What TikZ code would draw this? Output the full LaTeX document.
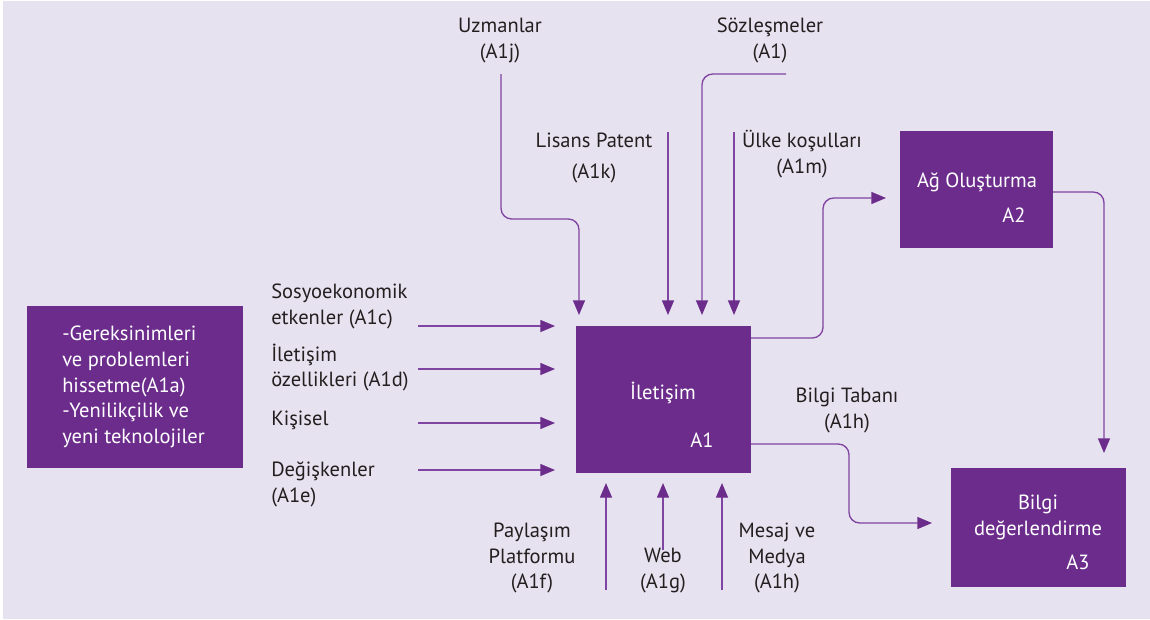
\documentclass[tikz,border=0pt]{standalone}
\usepackage{fontspec}
\setmainfont{PT Sans}
\usetikzlibrary{arrows.meta}
\definecolor{bg}{HTML}{E7E2EF}
\definecolor{boxc}{HTML}{6C2C8C}
\definecolor{linec}{HTML}{8044A2}
\definecolor{txt}{HTML}{231F20}
\begin{document}
\begin{tikzpicture}[x=0.75pt,y=-0.75pt,
  font=\fontsize{15.4}{19.2}\selectfont,
  procbox/.style={fill=boxc, draw=none, inner sep=0pt, outer sep=0pt},
  lbl/.style={text=txt, align=center, inner sep=0pt},
  lbll/.style={text=txt, align=left, inner sep=0pt, anchor=west},
  wlbl/.style={text=white, align=center, inner sep=0pt},
  flow/.style={draw=linec, line width=1pt, rounded corners=8pt,
    -{Triangle[length=11pt,width=9pt,color=boxc]}}]
\useasboundingbox (0,0) rectangle (1150,619);
\fill[white] (0,0) rectangle (1150,619);
\fill[bg] (3,1) rectangle (1150,619);

% boxes
\node[procbox, minimum width=162pt, minimum height=121.5pt] (A0) at (135,387) {};
\node[procbox, minimum width=131.25pt, minimum height=110.25pt] (A1) at (663.5,399.5) {};
\node[procbox, minimum width=114.75pt, minimum height=87.75pt] (A2) at (976.5,189.5) {};
\node[procbox, minimum width=131.25pt, minimum height=89.25pt] (A3) at (1038.5,527.5) {};

% box texts
\node[wlbl, align=left, anchor=west] (t0) at (62,387) {-Gereksinimleri\\ve problemleri\\hissetme(A1a)\\-Yenilikçilik ve\\yeni teknolojiler};
\node[wlbl] (t1) at (663,393) {İletişim};
\node[wlbl] (t1n) at (702,440) {A1};
\node[wlbl] (t2) at (977,182) {Ağ Oluşturma};
\node[wlbl] (t2n) at (1014,215) {A2};
\node[wlbl] (t3) at (1038,517.5) {Bilgi\\değerlendirme};
\node[wlbl] (t3n) at (1078,562) {A3};

% top labels
\node[lbl] (uz) at (500,40.5) {Uzmanlar\\(A1j)};
\node[lbl] (sz) at (770,40.5) {Sözleşmeler\\(A1)};
\node[lbl] (lp) at (594,158) {Lisans Patent\\[4pt](A1k)};
\node[lbl] (uk) at (802,154) {Ülke koşulları\\(A1m)};

% left labels
\node[lbll] (se) at (271,306.5) {Sosyoekonomik\\etkenler (A1c)};
\node[lbll] (io) at (271,367.5) {İletişim\\özellikleri (A1d)};
\node[lbll] (ks) at (271,420) {Kişisel};
\node[lbll] (dg) at (271,484.5) {Değişkenler\\(A1e)};

% bottom labels
\node[lbl] (pp) at (532,558) {Paylaşım\\Platformu\\(A1f)};
\node[lbl] (wb) at (663,570.5) {Web\\(A1g)};
\node[lbl] (mm) at (777,558) {Mesaj ve\\Medya\\(A1h)};
\node[lbl] (bt) at (847,410.5) {Bilgi Tabanı\\(A1h)};

% free ends
\coordinate (suz) at (501,74);
\coordinate (slp) at (668,132);
\coordinate (ssz) at (786,74);
\coordinate (suk) at (734,132);
\coordinate (sse) at (418,326);
\coordinate (sio) at (418,369);
\coordinate (sks) at (418,423);
\coordinate (sdg) at (418,470);
\coordinate (spp) at (606,590);
\coordinate (swb) at (663,550);
\coordinate (smm) at (722,590);

% top inputs
\draw[flow, shorten >=8.25pt] (suz) -- (501,219) -- (579,219) -- (A1.north -| 579,0);
\draw[flow, shorten >=8.25pt] (slp) -- (A1.north -| slp);
\draw[flow, shorten >=8.25pt] (ssz) -- (702,74) -- (A1.north -| 702,0);
\draw[flow, shorten >=8.25pt] (suk) -- (A1.north -| suk);

% left inputs
\draw[flow, shorten >=15.75pt] (sse) -- (A1.west |- sse);
\draw[flow, shorten >=15.75pt] (sio) -- (A1.west |- sio);
\draw[flow, shorten >=15.75pt] (sks) -- (A1.west |- sks);
\draw[flow, shorten >=15.75pt] (sdg) -- (A1.west |- sdg);

% bottom inputs
\draw[flow, shorten >=7.5pt] (spp) -- (A1.south -| spp);
\draw[flow, shorten >=7.5pt] (swb) -- (A1.south -| swb);
\draw[flow, shorten >=7.5pt] (smm) -- (A1.south -| smm);

% outputs
\draw[flow, shorten >=10.5pt] (A1.east |- 0,338) -- (823,338) -- (823,198) -- (A2.west |- 0,198);
\draw[flow, shorten >=11.25pt] (A2.east |- 0,192) -- (1104,192) -- (A3.north -| 1104,0);
\draw[flow, shorten >=14.25pt] (A1.east |- 0,444) -- (849,444) -- (849,523) -- (A3.west |- 0,523);
\end{tikzpicture}
\end{document}
